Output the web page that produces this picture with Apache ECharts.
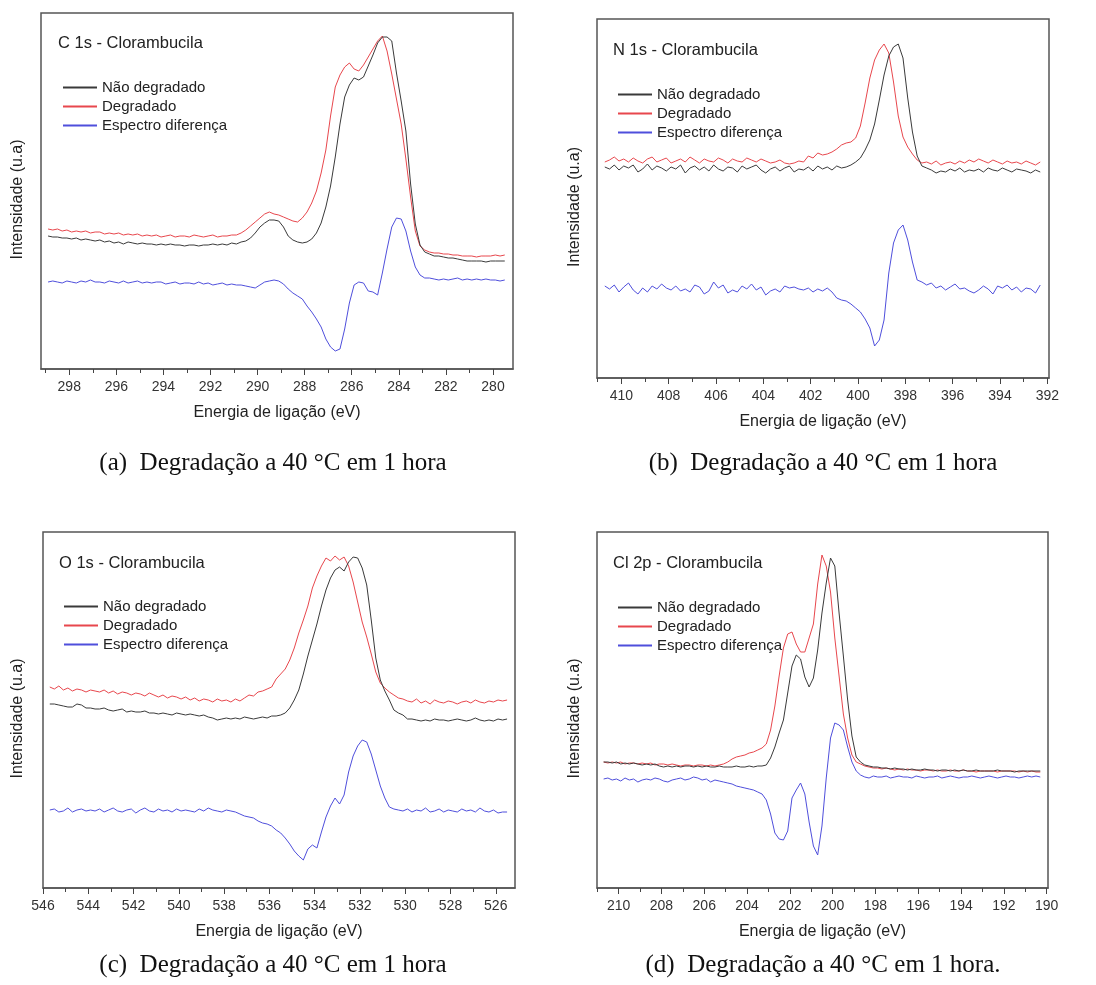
<!DOCTYPE html>
<html><head><meta charset="utf-8">
<script src="https://cdn.jsdelivr.net/npm/echarts@6/dist/echarts.min.js"></script>
<style>html,body{margin:0;padding:0;background:#fff}#c{width:1096px;height:985px}</style>
</head><body><div id="c"></div>
<script>
// ---------- text ----------
const seriesNames = ['Não degradado', 'Degradado', 'Espectro diferença'];
const panelTitles = ['C 1s - Clorambucila', 'N 1s - Clorambucila', 'O 1s - Clorambucila', 'Cl 2p - Clorambucila'];
const captions = ['(a)  Degradação a 40 °C em 1 hora', '(b)  Degradação a 40 °C em 1 hora',
                  '(c)  Degradação a 40 °C em 1 hora', '(d)  Degradação a 40 °C em 1 hora.'];
const xAxisTitle = 'Energia de ligação (eV)';
const yAxisTitle = 'Intensidade (u.a)';

// ---------- tick labels ----------
const aTicks = [280, 282, 284, 286, 288, 290, 292, 294, 296, 298];
const aMinor = [281, 283, 285, 287, 289, 291, 293, 295, 297, 299];
const bTicks = [392, 394, 396, 398, 400, 402, 404, 406, 408, 410];
const bMinor = [393, 395, 397, 399, 401, 403, 405, 407, 409, 411];
const cTicks = [526, 528, 530, 532, 534, 536, 538, 540, 542, 544, 546];
const cMinor = [527, 529, 531, 533, 535, 537, 539, 541, 543, 545];
const dTicks = [190, 192, 194, 196, 198, 200, 202, 204, 206, 208, 210];
const dMinor = [191, 193, 195, 197, 199, 201, 203, 205, 207, 209, 211];

// ---------- data: energies sampled every 0.2 eV from the start value, decreasing ----------
const energyStep = 0.2;
const aStart = 298.9, bStart = 410.7, cStart = 545.7, dStart = 210.7;

// C 1s
const aBlack = [133,132,132,131,131,130,131,129,130,129,
128,129,127,128,126,127,125,127,126,125,
126,125,125,124,125,124,125,124,124,123,
124,124,123,124,124,125,124,125,124,126,
125,127,128,131,136,142,146,149,149,148,
142,133,129,127,126,127,130,136,146,162,
183,212,245,272,284,291,289,292,303,314,
326,332,332,328,296,268,238,185,145,124,
117,115,113,113,112,111,111,110,109,108,
108,108,108,107,108,108,108,108];
const aRed = [140,139,140,138,139,137,138,137,138,136,
137,137,135,136,135,136,134,135,134,135,
133,134,133,134,132,133,134,132,133,133,
132,134,133,132,133,134,132,133,133,134,
134,136,139,143,147,151,155,157,155,154,
152,150,148,147,151,157,166,178,196,219,
253,282,294,302,306,300,298,304,312,320,
328,333,318,295,270,245,210,172,138,123,
119,117,116,116,115,115,114,114,113,113,
113,112,113,113,113,114,113,114];
const aBlue = [87,88,87,86,88,87,86,88,87,89,
87,87,86,88,87,86,88,86,87,88,
86,87,86,87,87,85,86,87,85,86,
86,85,87,85,86,84,85,86,84,85,
84,84,83,82,81,84,87,88,89,88,
85,80,76,73,70,63,57,50,42,30,
22,18,20,40,66,84,87,86,78,77,
74,96,120,142,151,150,138,118,102,94,
91,91,90,89,90,89,90,91,89,90,
89,90,89,90,89,89,88,89];

// N 1s
const bBlack = [211,209,213,208,
212,210,213,206,209,214,208,212,210,207,
211,209,213,205,210,212,208,211,207,213,
209,207,211,210,206,212,209,211,213,208,
205,209,211,207,210,212,206,209,208,211,
207,212,209,211,208,212,210,211,213,216,
220,228,238,254,278,303,322,331,334,320,
280,246,222,212,210,208,205,207,206,209,
207,210,206,208,207,209,206,210,208,207,
210,208,206,209,208,207,205,208,206];
const bRed = [216,218,221,217,
219,216,220,217,215,219,221,216,218,220,
215,217,219,216,221,218,215,219,217,216,
220,218,215,219,217,216,220,218,216,219,
217,215,216,218,215,214,215,217,216,222,
220,225,223,224,226,229,233,235,236,240,
252,275,300,318,328,334,325,296,262,241,
231,224,218,215,216,214,217,213,215,216,
214,217,215,218,216,219,217,215,218,216,
214,217,215,216,214,217,215,213,216];
const bBlue = [92,89,93,86,
91,95,88,84,90,86,92,89,94,90,
88,92,87,89,86,93,91,84,87,96,
90,93,85,88,86,92,89,94,88,91,
83,87,89,86,92,90,91,89,88,90,
86,89,87,90,86,80,78,77,74,70,
66,59,50,32,38,58,105,135,148,153,
138,116,98,96,93,95,90,92,88,91,
94,89,90,87,85,88,92,89,84,92,
90,93,88,91,86,90,89,85,93];

// O 1s
const cBlack = [184,184,183,182,181,181,184,183,180,180,
179,179,180,178,177,178,179,176,177,176,
176,177,175,175,174,175,174,173,175,174,
173,174,173,172,173,171,170,168,169,170,
169,170,169,171,170,169,170,171,170,172,
172,173,175,180,188,198,214,232,248,264,
282,298,310,318,321,317,326,331,330,320,
303,268,230,208,197,188,178,175,173,169,
169,168,167,168,167,169,168,168,167,168,
169,168,167,168,170,168,167,168,167,169,
168,169];
const cRed = [201,199,202,198,200,197,199,198,196,198,
197,196,198,195,197,194,196,195,193,195,
194,192,195,193,191,193,190,192,191,189,
191,188,190,187,189,188,186,189,187,188,
186,189,187,190,193,192,196,197,199,201,
209,214,219,228,240,255,268,282,300,312,
322,330,327,332,328,331,322,306,286,266,
251,234,216,205,200,196,193,190,189,187,
186,189,185,187,184,188,186,185,187,186,
184,186,187,185,188,186,185,187,186,188,
187,188];
const cBlue = [78,79,76,77,80,76,78,79,77,78,
77,79,76,78,80,77,76,78,79,75,
78,80,77,76,79,77,78,76,79,77,
78,77,76,79,77,80,78,77,76,78,
77,76,74,72,71,70,67,65,64,62,
58,55,50,44,37,32,28,39,43,40,
56,71,82,90,84,93,116,132,142,148,
146,134,118,102,90,81,79,78,77,79,
76,78,77,80,76,77,79,76,78,77,
76,79,77,78,76,80,77,76,78,75,
76,76];

// Cl 2p
const dBlack = [126,126,125,126,124,125,124,125,124,123,
124,123,124,122,121,122,121,122,121,122,
122,121,122,121,122,121,121,122,121,121,
121,122,121,121,122,121,122,122,123,130,
141,155,168,195,222,233,229,211,201,210,
238,275,305,330,322,275,232,188,152,131,
126,123,122,121,121,120,120,119,120,119,
119,118,119,118,118,119,118,118,117,118,
118,117,118,117,118,117,117,118,117,117,
117,117,118,117,117,117,116,117,117,117,
117,117,117];
const dRed = [126,125,126,125,126,124,125,125,124,125,
124,125,123,124,124,123,124,123,122,123,
123,122,123,123,122,123,122,123,124,126,
129,131,132,133,135,136,138,140,144,158,
182,212,240,254,256,244,236,236,250,264,
304,333,322,296,250,212,174,150,133,126,
124,122,121,120,120,119,120,119,118,119,
118,119,118,118,117,118,118,117,118,117,
117,118,117,117,118,117,117,116,117,117,
117,117,116,117,117,117,117,116,117,116,
117,116,116];
const dBlue = [109,110,108,109,107,110,108,109,106,108,
109,108,110,109,107,106,108,109,110,108,
109,111,110,108,109,106,108,107,106,105,
104,102,101,100,99,98,96,94,88,74,
55,49,48,57,90,98,105,94,66,42,
33,62,110,150,165,163,158,141,126,117,
113,111,110,112,111,111,112,110,111,112,
111,111,110,112,111,110,111,111,112,110,
111,112,111,110,111,111,112,111,110,111,
112,111,110,111,112,111,111,110,111,112,
111,112,111];

// ---------- layout / style ----------
const SANS = '"Liberation Sans", Arial, Helvetica, sans-serif';
const SERIF = '"Liberation Serif", "Times New Roman", serif';
const lineColors = ['#3a3a3a', '#e8474d', '#4f4fdc'];

const panels = [
  {grid:{left:41, top:13, width:472, height:356}, xr:[279.15, 299.2], ymax:356, start:aStart, series:[aBlack,aRed,aBlue], ticks:aTicks, minor:aMinor,
   yGap:15, title:[58,43], legend:[62,80], caption:[273,463]},
  {grid:{left:597, top:19, width:452, height:359}, xr:[391.93, 411.03], ymax:359, start:bStart, series:[bBlack,bRed,bBlue], ticks:bTicks, minor:bMinor,
   yGap:14, title:[613,50], legend:[617,87], caption:[823,463]},
  {grid:{left:43, top:532, width:472, height:356}, xr:[525.15, 546.0], ymax:356, start:cStart, series:[cBlack,cRed,cBlue], ticks:cTicks, minor:cMinor,
   yGap:17, title:[59,563], legend:[63,599], caption:[273,965]},
  {grid:{left:597, top:532, width:451, height:356}, xr:[189.94, 211.01], ymax:356, start:dStart, series:[dBlack,dRed,dBlue], ticks:dTicks, minor:dMinor,
   yGap:14, title:[613,563], legend:[617,600], caption:[823,965]}
];

const grids = [], xAxes = [], yAxes = [], series = [], legends = [], graphics = [];
panels.forEach((p, k) => {
  grids.push(Object.assign({show:true, borderColor:'#555', borderWidth:1.5, backgroundColor:'#fff', containLabel:false}, p.grid));
  xAxes.push({
    gridIndex:k, type:'value', inverse:true, min:p.xr[0], max:p.xr[1], position:'bottom',
    axisLine:{show:true, onZero:false, lineStyle:{color:'#555', width:1.5}},
    axisTick:{show:true, customValues:p.ticks, length:6, lineStyle:{color:'#444', width:1}},
    axisLabel:{show:true, customValues:p.ticks, margin:11, fontSize:14, color:'#333', fontFamily:SANS},
    splitLine:{show:false},
    name:xAxisTitle, nameLocation:'middle', nameGap:36,
    nameTextStyle:{fontSize:16, color:'#222', fontFamily:SANS}
  });
  xAxes.push({
    gridIndex:k, type:'value', inverse:true, min:p.xr[0], max:p.xr[1], position:'bottom',
    axisLine:{show:false},
    axisTick:{show:true, customValues:p.minor, length:4, lineStyle:{color:'#444', width:1}},
    axisLabel:{show:false}, splitLine:{show:false}
  });
  yAxes.push({
    gridIndex:k, type:'value', min:0, max:p.ymax,
    axisLine:{show:false}, axisTick:{show:false}, axisLabel:{show:false}, splitLine:{show:false},
    name:yAxisTitle, nameLocation:'middle', nameGap:p.yGap,
    nameTextStyle:{fontSize:16, color:'#222', fontFamily:SANS, padding:[0,17,0,0]}
  });
  p.series.forEach((vals, j) => {
    series.push({
      name:seriesNames[j], type:'line', xAxisIndex:2*k, yAxisIndex:k,
      symbol:'none', showSymbol:false, smooth:false,
      lineStyle:{color:lineColors[j], width:1}, itemStyle:{color:lineColors[j]},
      data: vals.map((v, i) => [+(p.start - energyStep * i).toFixed(2), v]),
      z: 3 - j
    });
  });
  legends.push({
    data:seriesNames, orient:'vertical', left:p.legend[0], top:p.legend[1],
    itemWidth:34, itemHeight:15, itemGap:4, padding:0, selectedMode:false,
    itemStyle:{opacity:0},
    textStyle:{fontSize:15, color:'#222', fontFamily:SANS, lineHeight:15}
  });
  graphics.push({type:'text', x:p.title[0], y:p.title[1],
    style:{text:panelTitles[k], font:'16.5px ' + SANS, fill:'#222', align:'left', verticalAlign:'middle', textAlign:'left', textVerticalAlign:'middle'}});
  graphics.push({type:'text', x:p.caption[0], y:p.caption[1],
    style:{text:captions[k], font:'25px ' + SERIF, fill:'#111', align:'center', verticalAlign:'middle', textAlign:'center', textVerticalAlign:'middle'}});
});

const chart = echarts.init(document.getElementById('c'), null, {renderer:'canvas'});
chart.setOption({
  backgroundColor:'#fff', animation:false,
  grid:grids, xAxis:xAxes, yAxis:yAxes, series:series, legend:legends, graphic:graphics
});
</script></body></html>
